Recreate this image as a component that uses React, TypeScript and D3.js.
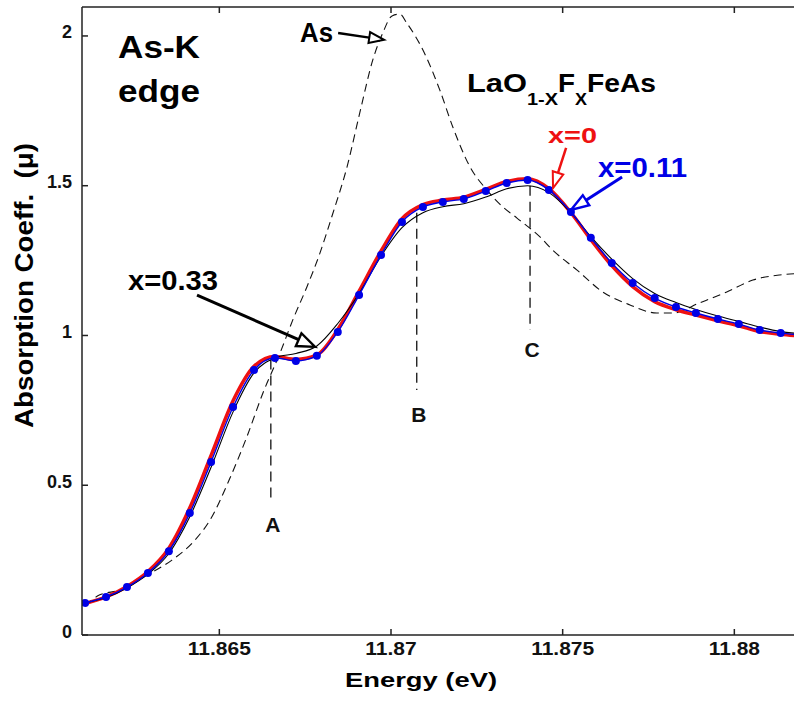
import React from 'react';
import * as d3 from 'd3';

// energies (keV) of the sampled points, shared by the three sample curves
const energy = [11.86109, 11.8617, 11.86231, 11.86292, 11.86353, 11.86414, 11.86476, 11.8654, 11.86601, 11.86662,
  11.86723, 11.86784, 11.86845, 11.86907, 11.86971, 11.87032, 11.87093, 11.87151, 11.87212, 11.87276,
  11.87337, 11.87398, 11.8746, 11.87524, 11.87582, 11.87643, 11.87704, 11.87768, 11.8783, 11.87888,
  11.87952, 11.88013, 11.88074, 11.88135, 11.8819];

// x = 0 (red)
const muX0 = [0.105, 0.127, 0.162, 0.212, 0.29, 0.425, 0.6, 0.782, 0.897, 0.93,
  0.92, 0.935, 1.02, 1.148, 1.282, 1.39, 1.437, 1.452, 1.462, 1.488,
  1.514, 1.523, 1.49, 1.41, 1.32, 1.233, 1.163, 1.113, 1.086, 1.068,
  1.049, 1.032, 1.013, 1.004, 0.998];

// x = 0.11 (blue, with dots)
const muX011 = [0.107, 0.127, 0.16, 0.207, 0.28, 0.407, 0.578, 0.761, 0.885, 0.925,
  0.915, 0.932, 1.012, 1.135, 1.269, 1.379, 1.429, 1.446, 1.456, 1.482,
  1.509, 1.519, 1.486, 1.412, 1.326, 1.242, 1.175, 1.125, 1.095, 1.075,
  1.055, 1.038, 1.018, 1.008, 1.002];

// x = 0.33 (thin black)
const muX033 = [0.107, 0.125, 0.157, 0.203, 0.272, 0.395, 0.56, 0.745, 0.875, 0.925,
  0.94, 0.965, 1.04, 1.14, 1.265, 1.36, 1.41, 1.43, 1.44, 1.462,
  1.49, 1.5, 1.477, 1.41, 1.33, 1.255, 1.19, 1.14, 1.11, 1.087,
  1.065, 1.047, 1.028, 1.013, 1.006];

// As reference (dashed)
const asEnergy = [11.86109, 11.86152, 11.86211, 11.86289, 11.86362, 11.86429, 11.86473, 11.86531, 11.8658, 11.86627,
  11.86677, 11.86714, 11.86755, 11.86793, 11.86831, 11.86872, 11.86909, 11.86947, 11.86976, 11.87003,
  11.87026, 11.87046, 11.87093, 11.87142, 11.8718, 11.8723, 11.87279, 11.87326, 11.87367, 11.87434,
  11.87471, 11.87541, 11.87617, 11.87696, 11.87774, 11.87821, 11.87899, 11.87978, 11.88054, 11.88132, 11.8819];
const asMu = [0.1, 0.134, 0.15, 0.2, 0.25, 0.317, 0.384, 0.524, 0.661, 0.808,
  0.942, 1.052, 1.162, 1.275, 1.409, 1.563, 1.743, 1.92, 2.01, 2.067,
  2.073, 2.043, 1.953, 1.82, 1.696, 1.563, 1.486, 1.429, 1.392, 1.329,
  1.285, 1.219, 1.145, 1.102, 1.075, 1.075, 1.109, 1.145, 1.185, 1.202, 1.207];

const xTicks = [11.865, 11.87, 11.875, 11.88];
const xTickLabels = ['11.865', '11.87', '11.875', '11.88'];
const yTicks = [0, 0.5, 1, 1.5, 2];
const yTickLabels = ['0', '0.5', '1', '1.5', '2'];

// feature markers A, B, C: energy, top and bottom of the dashed drop line
const markerNames = ['A', 'B', 'C'];
const markerEnergy = [11.8665, 11.87075, 11.87405];
const markerTop = [0.92, 1.41, 1.5];
const markerBottom = [0.44, 0.818, 1.018];

const W = 794, H = 702;
const FONT = '"Liberation Sans", Arial, Helvetica, sans-serif';
const RED = '#ee1111';
const BLUE = '#0000e6';

const x = d3.scaleLinear().domain([11.861, 11.882]).range([82, 803]);
const y = d3.scaleLinear().domain([0, 2.1]).range([635, 6]);

type P = [number, number];

const line = d3.line<P>()
  .x(d => x(d[0]))
  .y(d => y(d[1]))
  .curve(d3.curveMonotoneX);

const Label = ({ x: lx, y: ly, w, size, fill = '#000', anchor = 'start', children }: any) => (
  <text x={lx} y={ly} fontSize={size} fontWeight="bold" fill={fill} textAnchor={anchor}
    textLength={w} lengthAdjust="spacingAndGlyphs" style={{ whiteSpace: 'pre' }}>{children}</text>
);

// arrow given in data coordinates, open triangular head
const Arrow = ({ from, to, color = '#000', width = 2.5, head = 16, half = 6 }: any) => {
  const x1 = x(from[0]), y1 = y(from[1]), x2 = x(to[0]), y2 = y(to[1]);
  const dx = x2 - x1, dy = y2 - y1, len = Math.hypot(dx, dy);
  const ux = dx / len, uy = dy / len;
  const bx = x2 - ux * head, by = y2 - uy * head;
  const pts = [[x2, y2], [bx - uy * half, by + ux * half], [bx + uy * half, by - ux * half]];
  return (
    <g>
      <line x1={x1} y1={y1} x2={bx} y2={by} stroke={color} strokeWidth={width} />
      <polygon points={pts.map(p => p.join(',')).join(' ')} fill="#fff" stroke={color}
        strokeWidth={width * 0.8} strokeLinejoin="miter" />
    </g>
  );
};

export default function App() {
  const red = energy.map((e, i) => [e, muX0[i]] as P);
  const blue = energy.map((e, i) => [e, muX011[i]] as P);
  const black = energy.map((e, i) => [e, muX033[i]] as P);
  const asRef = asEnergy.map((e, i) => [e, asMu[i]] as P);

  const [x0, x1] = x.range();
  const [y0, y1] = [y(0), 7];

  return (
    <svg width={W} height={H} style={{ position: 'absolute', left: 0, top: 0, background: '#fff' }}
      fontFamily={FONT}>
      <defs>
        <clipPath id="plot">
          <rect x={x0} y={y1} width={x1 - x0} height={y0 - y1} />
        </clipPath>
      </defs>
      <rect width={W} height={H} fill="#fff" />

      <g clipPath="url(#plot)" fill="none">
        <path d={line(asRef) || ''} stroke="#111" strokeWidth={1.1} strokeDasharray="8,5" />
        {markerNames.map((m, i) => (
          <line key={m} x1={x(markerEnergy[i])} x2={x(markerEnergy[i])}
            y1={y(markerTop[i])} y2={y(markerBottom[i])}
            stroke="#111" strokeWidth={1.3} strokeDasharray="10,6" />
        ))}
        <path d={line(red) || ''} stroke={RED} strokeWidth={3.5} strokeLinejoin="round" />
        <path d={line(black) || ''} stroke="#000" strokeWidth={1.1} />
        <path d={line(blue) || ''} stroke={BLUE} strokeWidth={1.4} />
        {blue.map((d, i) => (
          <circle key={i} cx={x(d[0])} cy={y(d[1])} r={4} fill={BLUE} />
        ))}
      </g>

      {/* frame */}
      <g stroke="#222" strokeWidth={1.5} fill="none">
        <line x1={x0} x2={x1} y1={y0} y2={y0} />
        <line x1={x0} x2={x1} y1={y1} y2={y1} />
        <line x1={x0} x2={x0} y1={y1} y2={y0} />
        <line x1={x1} x2={x1} y1={y1} y2={y0} />
        {xTicks.map(t => (
          <g key={t}>
            <line x1={x(t)} x2={x(t)} y1={y0} y2={y0 - 6} />
            <line x1={x(t)} x2={x(t)} y1={y1} y2={y1 + 6} />
          </g>
        ))}
        {yTicks.map(t => (
          <g key={t}>
            <line x1={x0} x2={x0 + 6} y1={y(t)} y2={y(t)} />
            <line x1={x1} x2={x1 - 6} y1={y(t)} y2={y(t)} />
          </g>
        ))}
      </g>

      {/* tick labels */}
      {xTicks.map((t, i) => (
        <text key={t} transform={`translate(${x(t)},${y0 + 20}) scale(1.2,1)`} textAnchor="middle"
          fontSize={17.5} fontWeight="bold" fill="#111">{xTickLabels[i]}</text>
      ))}
      {yTicks.map((t, i) => (
        <text key={t} x={72} y={y(t) + 2.5} textAnchor="end"
          fontSize={18} fontWeight="bold" fill="#111">{yTickLabels[i]}</text>
      ))}

      {/* axis titles */}
      <Label x={345} y={687} w={152} size={21}>Energy (eV)</Label>
      <g transform="translate(33,285.5) rotate(-90)">
        <Label x={0} y={0} w={285} size={25} anchor="middle">{'Absorption Coeff.  (\u03bc)'}</Label>
      </g>

      {/* annotations */}
      <Label x={118} y={58} w={82} size={32}>As-K</Label>
      <Label x={118} y={102} w={82} size={32}>edge</Label>

      <Label x={467} y={92} w={60} size={26}>LaO</Label>
      <Label x={527} y={105} w={31} size={17}>1-X</Label>
      <Label x={558} y={92} w={17} size={26}>F</Label>
      <Label x={575} y={105} w={12} size={17}>X</Label>
      <Label x={587} y={92} w={69} size={26}>FeAs</Label>

      <Label x={300} y={42} w={33} size={27}>As</Label>
      <Arrow from={[11.86846, 2.01]} to={[11.8698, 1.987]} width={2.5} head={15} half={5.5} />

      <Label x={128} y={290} w={90} size={27}>x=0.33</Label>
      <Arrow from={[11.86435, 1.135]} to={[11.86779, 0.962]} width={3} head={18} half={7} />

      <Label x={548} y={143} w={49} size={22} fill={RED}>x=0</Label>
      <Arrow from={[11.8751, 1.626]} to={[11.87472, 1.492]} color={RED} width={2.5} head={16} half={5.5} />

      <Label x={598} y={177} w={89} size={27} fill={BLUE}>x=0.11</Label>
      <Arrow from={[11.87673, 1.529]} to={[11.87524, 1.419]} color={BLUE} width={3} head={18} half={6} />

      {markerNames.map((m, i) => (
        <text key={m} x={x(markerEnergy[i]) + 2} y={y(markerBottom[i]) + (i === 0 ? 29 : i === 1 ? 32 : 27)}
          textAnchor="middle" fontSize={21} fontWeight="bold" fill="#111">{m}</text>
      ))}
    </svg>
  );
}
